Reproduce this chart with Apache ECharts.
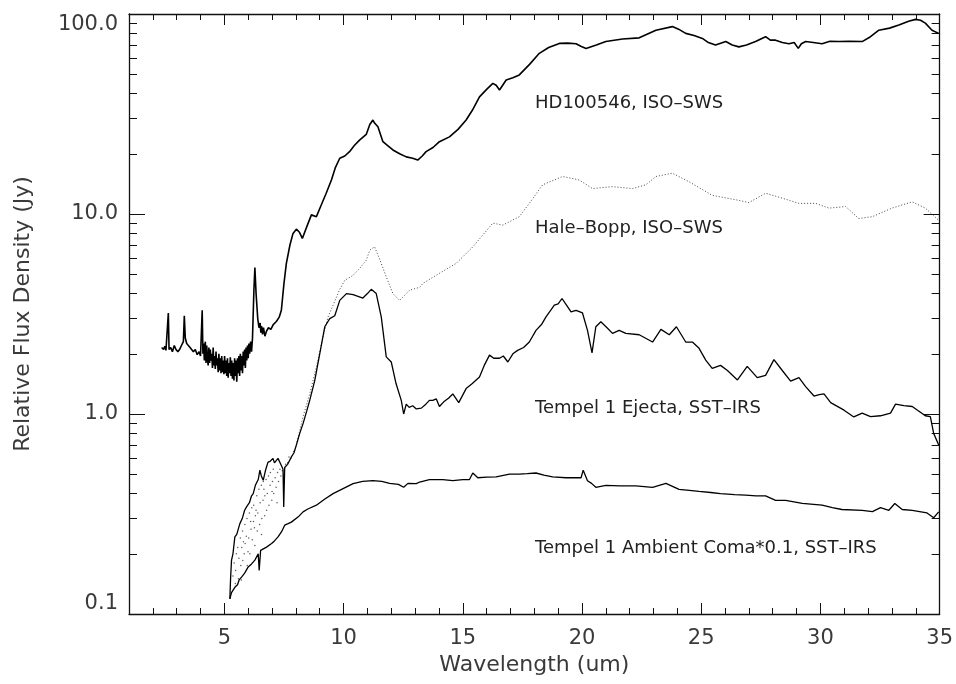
<!DOCTYPE html>
<html>
<head>
<meta charset="utf-8">
<title>Relative Flux Density</title>
<script src="https://cdn.jsdelivr.net/npm/echarts@6/dist/echarts.min.js"></script>
<style>
  html, body { margin: 0; padding: 0; background: #fff; }
  #chart { width: 956px; height: 684px; }
</style>
</head>
<body>
<div id="chart"></div>
<script>
// tick positions
var xMajor = [5, 10, 15, 20, 25, 30, 35];
var xMinor = [2, 3, 4, 6, 7, 8, 9, 11, 12, 13, 14, 16, 17, 18, 19, 21, 22, 23, 24, 26, 27, 28, 29, 31, 32, 33, 34];
var yMajor = [0.1, 1, 10, 100];
var yMinor = [0.2, 0.3, 0.4, 0.5, 0.6, 0.7, 0.8, 0.9, 2, 3, 4, 5, 6, 7, 8, 9, 20, 30, 40, 50, 60, 70, 80, 90];

// HD100546, ISO-SWS  [wavelength um, Jy]
var hd100546 = [
  [2.37,2.15],[2.45,2.1],[2.5,2.18],[2.55,2.08],[2.62,2.12],[2.65,3.2],[2.68,2.1],[2.75,2.15],[2.82,2.05],[2.9,2.2],
  [2.97,2.1],[3.05,2.05],[3.12,2.1],[3.2,2.2],[3.28,2.3],[3.32,3.1],[3.36,2.4],[3.42,2.25],[3.5,2.3],[3.56,2.15],
  [3.62,2.2],[3.7,2.05],[3.78,2.1],[3.86,1.98],[3.94,2.05],[4.0,1.95],[4.07,3.3],[4.1,2.0],[4.13,2.25],[4.16,1.85],
  [4.2,2.3],[4.23,1.8],[4.26,2.2],[4.29,1.9],[4.32,1.75],[4.35,2.15],[4.38,1.8],[4.41,2.1],[4.44,1.85],[4.47,2.0],
  [4.5,1.7],[4.53,2.15],[4.56,1.75],[4.59,1.95],[4.62,1.68],[4.65,2.05],[4.68,1.75],[4.71,1.9],[4.74,1.62],[4.77,2.0],
  [4.8,1.65],[4.83,1.9],[4.86,1.6],[4.89,1.95],[4.92,1.62],[4.95,1.85],[4.98,1.58],[5.01,1.95],[5.04,1.6],[5.07,1.85],
  [5.1,1.55],[5.13,1.9],[5.16,1.52],[5.19,1.8],[5.22,1.6],[5.25,1.92],[5.28,1.55],[5.31,1.85],[5.34,1.5],[5.37,1.8],
  [5.4,1.47],[5.43,1.9],[5.46,1.55],[5.49,1.85],[5.52,1.45],[5.55,1.9],[5.58,1.6],[5.61,1.95],[5.64,1.55],[5.67,2.0],
  [5.7,1.65],[5.73,1.95],[5.76,1.6],[5.79,2.05],[5.82,1.75],[5.85,2.1],[5.88,1.7],[5.91,2.15],[5.94,1.85],[5.97,2.2],
  [6.0,1.9],[6.03,2.25],[6.06,2.0],[6.1,2.3],[6.14,2.05],[6.18,2.4],[6.24,4.2],[6.28,5.4],[6.33,4.0],[6.4,3.0],
  [6.45,2.7],[6.5,2.85],[6.53,2.55],[6.56,2.75],[6.6,2.5],[6.64,2.7],[6.7,2.45],[6.77,2.6],[6.85,2.7],[6.95,2.65],
  [7.05,2.8],[7.18,2.9],[7.3,3.05],[7.39,3.3],[7.5,4.5],[7.6,5.66],
  [7.75,7.0],[7.88,8.0],[8.02,8.4],[8.15,8.1],[8.27,7.55],[8.45,8.6],[8.65,9.9],[8.86,9.7],[9.05,11],[9.27,12.7],
  [9.49,14.8],[9.65,17],[9.84,19],[10.05,19.5],[10.25,20.5],[10.45,22],[10.67,23.4],[10.95,25],[11.1,28],[11.23,29.5],
  [11.3,28.5],[11.44,27.3],[11.65,23],[11.85,22],[12.07,20.9],[12.35,20],[12.63,19.3],[12.9,19],[13.11,18.6],[13.3,19.5],
  [13.46,20.5],[13.75,21.5],[14.02,23],[14.44,24.3],[14.8,26.5],[15.14,29.5],[15.4,33],[15.7,38.5],[16.0,42],[16.26,45],
  [16.4,44],[16.54,41.7],[16.82,46.8],[17.1,48],[17.37,49.6],[17.8,56],[18.21,63.6],[18.6,68],[19.05,71.3],[19.4,71.5],
  [19.75,71],[19.95,69],[20.17,67.3],[20.6,70],[21.0,72.8],[21.7,75],[22.4,76],[23.1,83],[23.79,86.5],[24.05,84],
  [24.35,80],[24.7,78],[25.05,75.5],[25.3,72],[25.6,70],[26.03,72.8],[26.3,70],[26.58,68.5],[26.9,70],[27.28,72.8],
  [27.5,75],[27.7,77],[27.9,74],[28.12,74],[28.4,72],[28.68,71],[28.9,72],[29.07,67.3],[29.2,71],[29.38,72.8],
  [29.7,72],[30.07,71],[30.4,73],[30.77,72.8],[31.2,73],[31.75,72.8],[32.1,77],[32.45,83],[32.9,85],[33.29,88],
  [33.7,92],[33.99,94],[34.2,93],[34.4,90],[34.68,83],[34.96,80]
];

// Hale-Bopp, ISO-SWS: noisy short-wavelength points and the dotted spectrum
var haleBoppScatter = [
  [5.36,0.155],[5.41,0.18],[5.47,0.165],[5.5,0.2],[5.56,0.215],[5.59,0.15],[5.61,0.19],[5.67,0.24],[5.69,0.175],[5.73,0.215],
  [5.76,0.26],[5.77,0.185],[5.83,0.2],[5.86,0.28],[5.87,0.225],[5.92,0.245],[5.95,0.3],[5.99,0.205],[6.02,0.24],[6.05,0.32],
  [6.07,0.2],[6.12,0.265],[6.15,0.34],[6.17,0.235],[6.22,0.29],[6.23,0.35],[6.28,0.22],[6.3,0.31],[6.36,0.39],[6.38,0.26],
  [6.4,0.32],[6.45,0.42],[6.48,0.28],[6.5,0.36],[6.55,0.44],[6.57,0.3],[6.62,0.37],[6.63,0.46],[6.69,0.31],[6.7,0.39],
  [6.75,0.47],[6.77,0.33],[6.8,0.4],[6.85,0.49],[6.87,0.35],[6.92,0.44],[6.93,0.51],[6.99,0.37],[7.02,0.46],[7.05,0.53],
  [7.07,0.4],[7.13,0.48],[7.17,0.43],[7.23,0.51],[7.27,0.46],[7.33,0.53],[7.37,0.49],[7.43,0.52],[7.51,0.5],[7.57,0.56],
  [7.66,0.57],[7.71,0.61],[7.79,0.6],[7.91,0.65],[5.46,0.142],[5.96,0.175],[6.56,0.25],[6.26,0.27],[7.21,0.36],[5.71,0.148],
  [6.1,0.29],[6.66,0.42],[6.33,0.33],[5.8,0.23],[7.0,0.41]
];
var haleBopp = [
  [8.02,0.7],[8.3,0.97],[8.58,1.26],[8.86,1.72],[9.14,2.43],[9.35,3.06],[9.56,3.5],[9.84,4.2],[10.05,4.66],[10.4,4.94],
  [10.67,5.34],[10.95,5.87],[11.1,6.6],[11.3,6.85],[11.5,6.0],[11.79,4.85],[12.07,4.0],[12.35,3.7],[12.77,4.16],[13.19,4.3],
  [13.33,4.5],[14.02,5.05],[14.72,5.66],[15.42,6.85],[16.26,9.0],[16.68,8.8],[17.37,9.7],[17.79,11.3],[18.35,14],[19.19,15.4],
  [19.88,14.8],[20.44,13.4],[21.28,13.7],[22.12,13.4],[22.68,14],[23.1,15.4],[23.79,16],[24.49,14.5],[25.46,12.4],[26.58,11.7],
  [27.0,11.4],[27.7,12.7],[28.4,12],[29.1,11.3],[29.8,11.3],[30.36,10.7],[31.06,10.9],[31.6,9.5],[32.18,9.7],[33.0,10.7],
  [33.85,11.5],[34.4,10.7],[34.96,9.3]
];

// Tempel 1 Ejecta, SST-IRS
var ejecta = [
  [5.23,0.119],[5.26,0.15],[5.3,0.186],[5.36,0.2],[5.44,0.243],[5.52,0.25],[5.65,0.283],[5.75,0.3],[5.85,0.33],[5.93,0.343],
  [6.05,0.36],[6.14,0.39],[6.21,0.4],[6.3,0.44],[6.42,0.47],[6.49,0.524],[6.55,0.49],[6.63,0.466],[6.72,0.52],[6.83,0.575],
  [6.92,0.58],[7.04,0.6],[7.1,0.57],[7.18,0.565],[7.25,0.6],[7.32,0.6],[7.4,0.55],[7.46,0.53],[7.49,0.343],[7.53,0.54],
  [7.65,0.56],[7.81,0.61],[7.92,0.64],[8.02,0.7],[8.16,0.8],[8.3,0.895],[8.45,1.03],[8.58,1.17],[8.79,1.47],
  [9.0,2.0],[9.21,2.73],[9.42,3.0],[9.63,3.1],[9.84,3.7],[10.12,4.0],[10.4,3.95],[10.81,3.8],[11.0,4.0],[11.16,4.2],
  [11.37,4.0],[11.58,3.06],[11.79,1.93],[12.0,1.82],[12.2,1.42],[12.42,1.17],[12.52,1.0],[12.63,1.12],[12.75,1.08],[12.9,1.1],
  [13.05,1.06],[13.26,1.07],[13.45,1.12],[13.6,1.17],[13.74,1.17],[13.89,1.19],[14.02,1.09],[14.2,1.15],[14.4,1.2],[14.58,1.26],
  [14.83,1.14],[15.14,1.34],[15.4,1.42],[15.7,1.53],[15.9,1.75],[16.12,1.97],[16.3,1.9],[16.54,1.9],[16.7,1.95],[16.89,1.82],
  [17.1,2.0],[17.3,2.08],[17.55,2.15],[17.79,2.29],[18.07,2.62],[18.3,2.8],[18.49,3.06],[18.84,3.5],[19.0,3.55],[19.16,3.78],
  [19.35,3.5],[19.54,3.24],[19.75,3.3],[20.02,3.2],[20.23,2.62],[20.42,2.02],[20.58,2.73],[20.79,2.89],[21.05,2.7],[21.28,2.53],
  [21.56,2.62],[21.84,2.53],[22.4,2.49],[22.96,2.29],[23.31,2.65],[23.66,2.49],[23.96,2.73],[24.35,2.29],[24.63,2.29],[24.91,2.13],
  [25.19,1.86],[25.46,1.69],[25.81,1.75],[26.1,1.65],[26.52,1.48],[26.93,1.73],[27.35,1.52],[27.7,1.56],[28.05,1.87],[28.4,1.65],
  [28.75,1.46],[29.1,1.52],[29.38,1.37],[29.73,1.23],[29.95,1.25],[30.15,1.26],[30.43,1.14],[30.99,1.045],[31.4,0.967],[31.75,1.01],
  [32.1,0.97],[32.52,0.98],[32.94,1.01],[33.15,1.12],[33.5,1.1],[33.85,1.09],[34.4,0.98],[34.61,0.97],[34.75,0.8],[34.96,0.7]
];

// Tempel 1 Ambient Coma*0.1, SST-IRS
var ambientComa = [
  [5.23,0.119],[5.3,0.128],[5.37,0.126],[5.44,0.136],[5.55,0.14],[5.62,0.148],[5.72,0.153],[5.85,0.16],[6.0,0.172],[6.14,0.178],
  [6.28,0.186],[6.42,0.2],[6.46,0.165],[6.52,0.208],[6.6,0.205],[6.77,0.216],[6.98,0.225],[7.1,0.232],[7.25,0.243],[7.4,0.258],
  [7.46,0.267],[7.53,0.278],[7.65,0.282],[7.81,0.288],[8.1,0.306],[8.3,0.324],[8.5,0.335],[8.86,0.35],[9.2,0.375],[9.56,0.4],
  [10.0,0.425],[10.4,0.449],[10.8,0.46],[11.23,0.464],[11.6,0.46],[11.93,0.45],[12.3,0.445],[12.52,0.43],[12.7,0.45],[13.05,0.449],
  [13.19,0.457],[13.6,0.47],[14.16,0.47],[14.58,0.464],[15.0,0.47],[15.28,0.47],[15.42,0.507],[15.63,0.48],[16.0,0.483],[16.4,0.485],
  [16.96,0.5],[17.37,0.5],[17.7,0.503],[18.07,0.507],[18.4,0.495],[18.77,0.485],[19.33,0.48],[19.96,0.48],[20.05,0.524],[20.23,0.464],
  [20.4,0.45],[20.58,0.43],[21.0,0.44],[21.6,0.437],[22.26,0.437],[22.96,0.43],[23.52,0.45],[24.07,0.42],[24.5,0.415],[24.91,0.41],
  [25.4,0.405],[25.81,0.4],[26.4,0.395],[26.86,0.393],[27.3,0.39],[27.7,0.39],[28.12,0.37],[28.54,0.37],[29.24,0.357],[30.07,0.35],
  [30.5,0.34],[30.9,0.333],[31.75,0.33],[32.18,0.325],[32.52,0.34],[32.87,0.33],[33.12,0.357],[33.43,0.333],[33.85,0.33],[34.47,0.32],
  [34.75,0.303],[34.96,0.324]
];

var labels = [
  { text: 'HD100546, ISO\u2013SWS', y: 103 },
  { text: 'Hale\u2013Bopp, ISO\u2013SWS', y: 228 },
  { text: 'Tempel 1 Ejecta, SST\u2013IRS', y: 408 },
  { text: 'Tempel 1 Ambient Coma*0.1, SST\u2013IRS', y: 548 }
];

var font = 'DejaVu Sans';
var ink = '#111';
var textInk = '#3a3a3a';

function xAxisDef(pos, ticks, len, showLine, showLabel) {
  return {
    type: 'value', min: 1, max: 35, position: pos,
    axisLine: { show: showLine, onZero: false, lineStyle: { color: ink, width: 1.3 } },
    axisTick: { show: true, inside: true, length: len, customValues: ticks, lineStyle: { color: ink, width: 1 } },
    axisLabel: { show: showLabel, customValues: ticks, margin: 14, fontFamily: font, fontSize: 21, color: textInk },
    splitLine: { show: false }
  };
}

function yAxisDef(pos, ticks, len, showLine, showLabel) {
  return {
    type: 'log', logBase: 10, min: 0.1, max: 100, position: pos,
    axisLine: { show: showLine, onZero: false, lineStyle: { color: ink, width: 1.3 } },
    axisTick: { show: true, inside: true, length: len, customValues: ticks, lineStyle: { color: ink, width: 1 } },
    axisLabel: {
      show: showLabel, customValues: ticks, margin: 11, fontFamily: font, fontSize: 21, color: textInk,
      verticalAlignMaxLabel: 'top', verticalAlignMinLabel: 'bottom',
      formatter: function (v) { return Number(v).toFixed(1); }
    },
    splitLine: { show: false }
  };
}

var chart = echarts.init(document.getElementById('chart'));

var xAxes = [
  xAxisDef('bottom', xMajor, 11, true, true),
  xAxisDef('bottom', xMinor, 6, false, false),
  xAxisDef('top', xMajor, 11, true, false),
  xAxisDef('top', xMinor, 6, false, false)
];
xAxes[0].name = 'Wavelength (um)';
xAxes[0].nameLocation = 'middle';
xAxes[0].nameGap = 40;
xAxes[0].nameTextStyle = { fontFamily: font, fontSize: 22, color: textInk };

var yAxes = [
  yAxisDef('left', yMajor, 16, true, true),
  yAxisDef('left', yMinor, 8, false, false),
  yAxisDef('right', yMajor, 16, true, false),
  yAxisDef('right', yMinor, 8, false, false)
];
yAxes[0].name = 'Relative Flux Density (Jy)';
yAxes[0].nameLocation = 'middle';
yAxes[0].nameGap = 95;
yAxes[0].nameTextStyle = { fontFamily: font, fontSize: 22, color: textInk };

chart.setOption({
  animation: false,
  backgroundColor: '#fff',
  grid: { left: 129, right: 15, top: 14, bottom: 70, containLabel: false },
  xAxis: xAxes,
  yAxis: yAxes,
  graphic: labels.map(function (l) {
    return {
      type: 'text', left: 535, top: l.y - 9,
      style: { text: l.text, fontFamily: font, fontSize: 18, fill: '#222' }
    };
  }),
  series: [
    {
      name: 'HD100546', type: 'line', data: hd100546, showSymbol: false,
      lineStyle: { color: '#000', width: 1.6 }
    },
    {
      name: 'Hale-Bopp', type: 'line', data: haleBopp, showSymbol: false,
      lineStyle: { color: '#444', width: 1, type: [1, 2] }
    },
    {
      name: 'Hale-Bopp noisy', type: 'scatter', data: haleBoppScatter,
      symbolSize: 1.5, itemStyle: { color: '#333' }
    },
    {
      name: 'Tempel 1 Ejecta', type: 'line', data: ejecta, showSymbol: false,
      lineStyle: { color: '#000', width: 1.3 }
    },
    {
      name: 'Tempel 1 Ambient Coma', type: 'line', data: ambientComa, showSymbol: false,
      lineStyle: { color: '#000', width: 1.3 }
    }
  ]
});
</script>
</body>
</html>
